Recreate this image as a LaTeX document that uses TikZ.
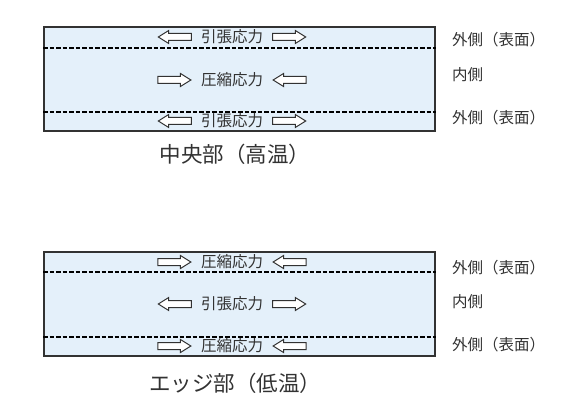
\documentclass[tikz,border=0pt]{standalone}
\usepackage{fontspec}
\setmainfont{Noto Sans CJK JP}
\usetikzlibrary{positioning,shapes.arrows}

\definecolor{platefill}{RGB}{228,240,250}
\definecolor{edge}{RGB}{50,50,50}
\definecolor{ink}{RGB}{50,50,50}

\tikzset{
  plate/.style={draw=edge,line width=1.8pt,fill=platefill,minimum width=391pt,minimum height=104pt,inner sep=0pt},
  layer/.style={line width=1.3pt,dash pattern=on 4.5pt off 2pt},
  stress/.style={font=\fontsize{15.5}{15.5}\selectfont,text=ink,inner sep=0pt},
  side/.style={font=\fontsize{15.5}{15.5}\selectfont,text=ink,anchor=west,inner sep=0pt},
  caption/.style={font=\fontsize{21.5}{21.5}\selectfont,text=ink,inner sep=0pt},
  push/.style={single arrow,draw=edge,fill=white,line width=1pt,minimum height=33pt,inner sep=3pt,
    single arrow head extend=3pt,single arrow head indent=0pt,single arrow tip angle=64,node distance=9pt},
  pull/.style={push,shape border rotate=180}
}

\begin{document}
\begin{tikzpicture}[x=1pt,y=-1pt]
  \useasboundingbox (0,0) rectangle (567,401);

  % centre part (hot)
  \node[plate] (hot) at (239.5,79) {};
  \draw[layer] ([yshift=-22pt]hot.north west) coordinate (h1) -- (h1 -| hot.east);
  \draw[layer] ([yshift=20pt]hot.south west) coordinate (h2) -- (h2 -| hot.east);

  \node[stress] (hotA) at (232,37) {引張応力};
  \node[pull,left=of hotA] (hotAl) {};
  \node[push,right=of hotA] (hotAr) {};
  \node[stress] (hotB) at (232,80) {圧縮応力};
  \node[push,left=of hotB] (hotBl) {};
  \node[pull,right=of hotB] (hotBr) {};
  \node[stress] (hotC) at (232,121) {引張応力};
  \node[pull,left=of hotC] (hotCl) {};
  \node[push,right=of hotC] (hotCr) {};

  \node[side] (hotS1) at (452,40) {外側（表面）};
  \node[side] (hotS2) at (452,75) {内側};
  \node[side] (hotS3) at (452,118) {外側（表面）};
  \node[caption] (hotcap) at (235,154) {中央部（高温）};

  % edge part (cold)
  \node[plate] (cold) at (239.5,304) {};
  \draw[layer] ([yshift=-21pt]cold.north west) coordinate (c1) -- (c1 -| cold.east);
  \draw[layer] ([yshift=20pt]cold.south west) coordinate (c2) -- (c2 -| cold.east);

  \node[stress] (coldA) at (232,262) {圧縮応力};
  \node[push,left=of coldA] (coldAl) {};
  \node[pull,right=of coldA] (coldAr) {};
  \node[stress] (coldB) at (232,304) {引張応力};
  \node[pull,left=of coldB] (coldBl) {};
  \node[push,right=of coldB] (coldBr) {};
  \node[stress] (coldC) at (232,346) {圧縮応力};
  \node[push,left=of coldC] (coldCl) {};
  \node[pull,right=of coldC] (coldCr) {};

  \node[side] (coldS1) at (452,268) {外側（表面）};
  \node[side] (coldS2) at (452,302) {内側};
  \node[side] (coldS3) at (452,345) {外側（表面）};
  \node[caption] (coldcap) at (235,383) {エッジ部（低温）};
\end{tikzpicture}
\end{document}
